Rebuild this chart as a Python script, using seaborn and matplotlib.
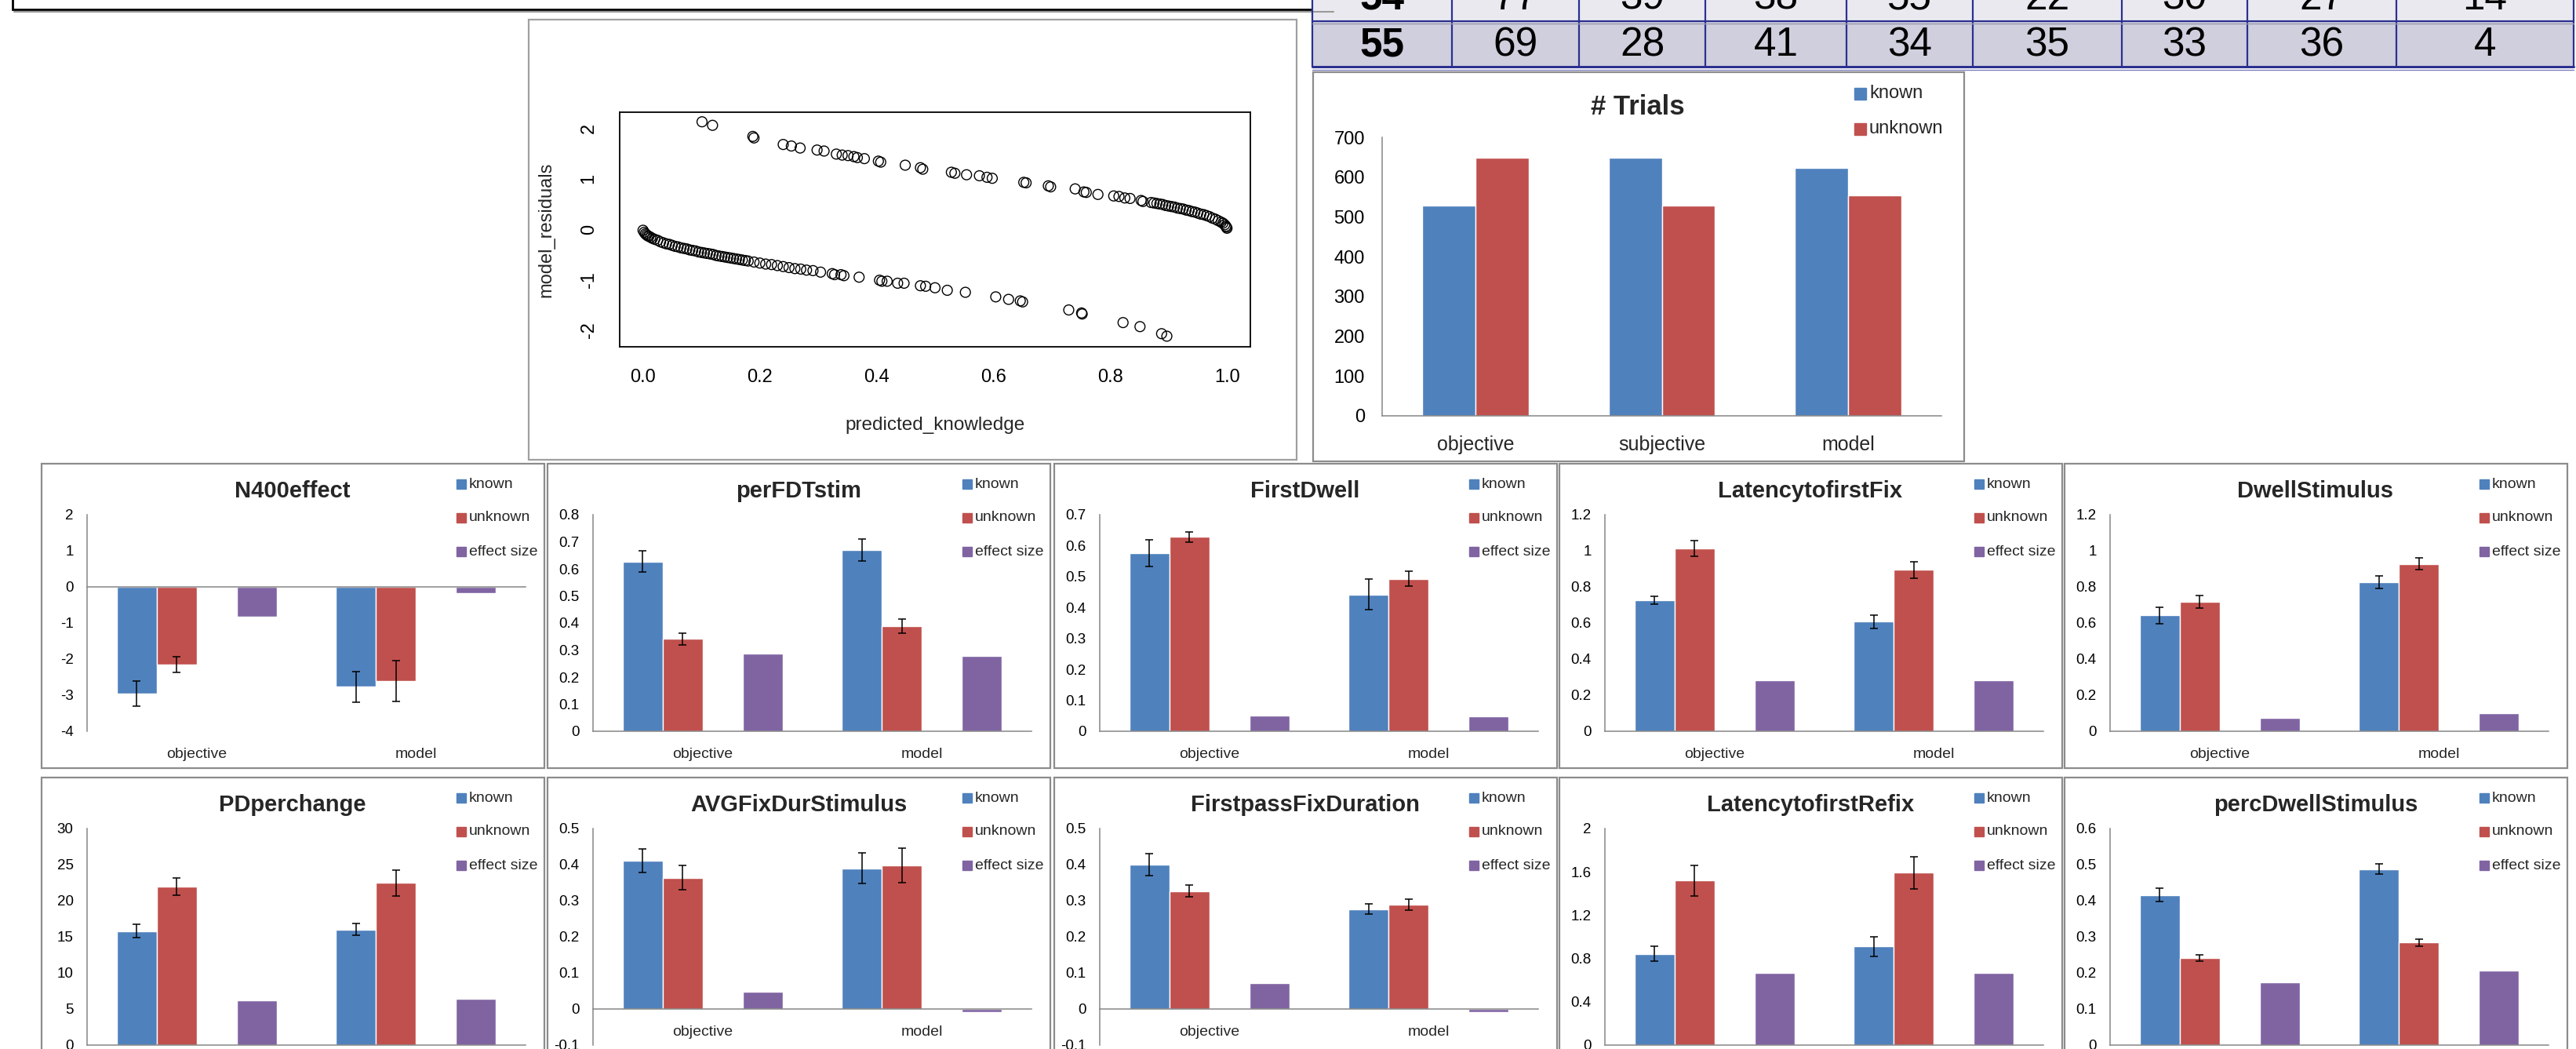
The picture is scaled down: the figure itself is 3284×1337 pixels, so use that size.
"""
Collage of study figures: id table, model residuals, trial counts and the
known / unknown / effect-size bar charts for each eye-tracking measure.
"""

import numpy as np
import pandas as pd
import seaborn as sns
import matplotlib.pyplot as plt
from matplotlib.patches import Rectangle

# ---------------------------------------------------------------- data
TABLE_IDS = [54, 55]
TABLE_VALUES = [
    [77, 39, 38, 55, 22, 30, 27, 14],
    [69, 28, 41, 34, 35, 33, 36, 4],
]

UPPER_X = [0.101, 0.119, 0.188, 0.190, 0.240, 0.254, 0.269, 0.298, 0.310, 0.331,
           0.341, 0.351, 0.361, 0.367, 0.379, 0.403, 0.407, 0.449, 0.475, 0.479,
           0.528, 0.534, 0.554, 0.576, 0.589, 0.598, 0.652, 0.656, 0.694, 0.698,
           0.740, 0.755, 0.759, 0.779, 0.806, 0.815, 0.825, 0.834, 0.853, 0.856,
           0.870, 0.875, 0.880, 0.885, 0.890, 0.895, 0.900, 0.905, 0.910, 0.915,
           0.920, 0.925, 0.930, 0.935, 0.940, 0.945, 0.950, 0.955, 0.960, 0.965,
           0.970, 0.975, 0.980, 0.985, 0.990, 0.993, 0.996, 0.998, 0.999, 1.000]
UPPER_Y = [2.13, 2.06, 1.84, 1.81, 1.68, 1.65, 1.61, 1.57, 1.55, 1.49,
           1.47, 1.46, 1.44, 1.42, 1.40, 1.35, 1.33, 1.27, 1.22, 1.19,
           1.13, 1.11, 1.08, 1.06, 1.03, 1.01, 0.93, 0.92, 0.86, 0.84,
           0.80, 0.74, 0.73, 0.69, 0.66, 0.65, 0.62, 0.61, 0.57, 0.55,
           0.53, 0.52, 0.51, 0.50, 0.49, 0.47, 0.46, 0.45, 0.44, 0.42,
           0.41, 0.40, 0.38, 0.37, 0.35, 0.34, 0.32, 0.30, 0.29, 0.27,
           0.25, 0.22, 0.20, 0.17, 0.14, 0.12, 0.09, 0.06, 0.04, 0.02]
LOWER_X = [0.000, 0.002, 0.004, 0.006, 0.008, 0.010, 0.013, 0.016, 0.020, 0.025,
           0.030, 0.035, 0.040, 0.045, 0.050, 0.055, 0.060, 0.065, 0.070, 0.075,
           0.080, 0.085, 0.090, 0.095, 0.100, 0.105, 0.110, 0.115, 0.120, 0.125,
           0.130, 0.135, 0.140, 0.145, 0.150, 0.155, 0.160, 0.165, 0.170, 0.175,
           0.180, 0.190, 0.200, 0.210, 0.220, 0.230, 0.240, 0.250, 0.260, 0.270,
           0.280, 0.291, 0.304, 0.324, 0.328, 0.339, 0.344, 0.370, 0.405, 0.409,
           0.418, 0.436, 0.447, 0.475, 0.484, 0.500, 0.521, 0.552, 0.604, 0.626,
           0.646, 0.650, 0.729, 0.751, 0.752, 0.822, 0.851, 0.888, 0.897]
LOWER_Y = [-0.02, -0.06, -0.09, -0.11, -0.13, -0.14, -0.16, -0.18, -0.20, -0.22,
           -0.25, -0.27, -0.29, -0.30, -0.32, -0.34, -0.35, -0.37, -0.38, -0.39,
           -0.41, -0.42, -0.43, -0.45, -0.46, -0.47, -0.48, -0.49, -0.50, -0.52,
           -0.53, -0.54, -0.55, -0.56, -0.57, -0.58, -0.59, -0.60, -0.61, -0.62,
           -0.63, -0.65, -0.67, -0.69, -0.70, -0.72, -0.74, -0.76, -0.78, -0.79,
           -0.81, -0.82, -0.85, -0.88, -0.90, -0.90, -0.92, -0.95, -1.01, -1.03,
           -1.03, -1.07, -1.07, -1.12, -1.13, -1.16, -1.21, -1.25, -1.34, -1.39,
           -1.42, -1.44, -1.60, -1.66, -1.68, -1.85, -1.93, -2.07, -2.12]

TRIAL_GROUPS = ["objective", "subjective", "model"]
TRIALS_KNOWN = [529, 648, 623]
TRIALS_UNKNOWN = [648, 529, 555]

CONDITIONS = ["objective", "model"]
SERIES = ["known", "unknown", "effect size"]
MEASURES = ["N400effect", "perFDTstim", "FirstDwell", "LatencytofirstFix",
            "DwellStimulus", "PDperchange", "AVGFixDurStimulus",
            "FirstpassFixDuration", "LatencytofirstRefix", "percDwellStimulus"]
KNOWN_MEAN = [[-2.96, -2.77], [0.627, 0.669], [0.575, 0.442], [0.726, 0.607],
              [0.642, 0.825], [15.8, 16.0], [0.411, 0.390], [0.400, 0.277],
              [0.844, 0.912], [0.416, 0.488]]
UNKNOWN_MEAN = [[-2.16, -2.61], [0.341, 0.388], [0.628, 0.493], [1.013, 0.895],
                [0.717, 0.928], [21.97, 22.45], [0.364, 0.398], [0.327, 0.290],
                [1.52, 1.591], [0.241, 0.284]]
EFFECT_SIZE = [[-0.82, -0.17], [0.286, 0.279], [0.050, 0.048], [0.283, 0.283],
               [0.074, 0.101], [6.2, 6.42], [0.047, -0.008], [0.071, -0.009],
               [0.669, 0.669], [0.174, 0.206]]
KNOWN_ERR = [[0.35, 0.42], [0.040, 0.041], [0.043, 0.049], [0.021, 0.036],
             [0.045, 0.035], [0.9, 0.82], [0.033, 0.042], [0.030, 0.015],
             [0.07, 0.09], [0.019, 0.015]]
UNKNOWN_ERR = [[0.22, 0.56], [0.021, 0.027], [0.016, 0.025], [0.043, 0.045],
               [0.035, 0.032], [1.2, 1.8], [0.034, 0.048], [0.016, 0.015],
               [0.14, 0.146], [0.008, 0.010]]

# ---------------------------------------------------------------- style
W, H = 3284, 1337
BLUE, RED, PURPLE = "#4F81BD", "#C0504D", "#8064A2"
AXIS_GRAY = "#868686"
BOX_GRAY = "#8C8C8C"
NAVY = "#2B3090"
HUE_SLOTS = ["known", "unknown", " ", "effect size"]
PALETTE = {"known": BLUE, "unknown": RED, " ": "white", "effect size": PURPLE}

# y range / step per measure, and whether category labels sit at the bottom
Y_AXES = [(-4, 2, 1), (0, 0.8, 0.1), (0, 0.7, 0.1), (0, 1.2, 0.2), (0, 1.2, 0.2),
          (0, 30, 5), (-0.1, 0.5, 0.1), (-0.1, 0.5, 0.1), (0, 2, 0.4), (0, 0.6, 0.1)]
LABELS_LOW = [True] + [False] * 9

sns.set_theme(style="white")
plt.rcParams["font.family"] = ["Liberation Sans", "DejaVu Sans"]
plt.rcParams["axes.unicode_minus"] = False

fig = plt.figure(figsize=(W / 100, H / 100), dpi=100)
bg = fig.add_axes([0, 0, 1, 1])
bg.set_xlim(0, W)
bg.set_ylim(H, 0)
bg.axis("off")


def px_axes(x0, y0, x1, y1):
    ax = fig.add_axes([x0 / W, 1 - y1 / H, (x1 - x0) / W, (y1 - y0) / H])
    ax.set_facecolor("none")
    return ax


def panel_box(x0, y0, x1, y1, color=BOX_GRAY):
    bg.add_patch(Rectangle((x0, y0), x1 - x0, y1 - y0, facecolor="white",
                           edgecolor=color, lw=1.6))


def excel_legend(x_sq, rows, labels, colors, size, fs):
    for y, lab, c in zip(rows, labels, colors):
        bg.add_patch(Rectangle((x_sq, y - size / 2), size, size, color=c))
        bg.text(x_sq + size + 4, y, lab, ha="left", va="center", fontsize=fs)


def excel_axes(ax, lo, hi, step, n, tick_fs, pad):
    ax.set_xlabel("")
    ax.set_ylabel("")
    ax.set_ylim(lo, hi)
    ax.set_xlim(-0.5, n - 0.5)
    ticks = np.arange(lo, hi + step / 2, step)
    ax.set_yticks(ticks)
    ax.set_yticklabels([f"{round(t, 4) + 0.0:g}" for t in ticks])
    ax.set_xticks(np.arange(-0.5, n, 1.0))
    ax.set_xticklabels([])
    for s in ("top", "right"):
        ax.spines[s].set_visible(False)
    for s in ("left", "bottom"):
        ax.spines[s].set_color(AXIS_GRAY)
        ax.spines[s].set_linewidth(1.1)
    ax.spines["bottom"].set_position(("data", 0))
    ax.tick_params(axis="y", length=5, width=1, color=AXIS_GRAY,
                   labelsize=tick_fs, pad=pad, labelcolor="black")
    ax.tick_params(axis="x", length=6, width=1, color=AXIS_GRAY)


# ---------------------------------------------------------------- top-left frame + table
bg.add_patch(Rectangle((16, -60), 1700, 72, fill=False, edgecolor="black", lw=2))
bg.plot([18, 1700], [14.5, 14.5], color="#9a9a9a", lw=1.5)

COL_EDGES = [1673, 1851, 2013, 2174, 2354, 2515, 2705, 2865, 3055, 3281]
ROW_EDGES = [-44, 27, 85]
ROW_FILLS = ["#E9E9EF", "#CFCFDD"]
BASELINES = [12, 71]
for r, (rid, vals) in enumerate(zip(TABLE_IDS, TABLE_VALUES)):
    bg.add_patch(Rectangle((COL_EDGES[0], ROW_EDGES[r]), COL_EDGES[-1] - COL_EDGES[0],
                           ROW_EDGES[r + 1] - ROW_EDGES[r], facecolor=ROW_FILLS[r],
                           edgecolor="none"))
    cells = [rid] + vals
    for c, v in enumerate(cells):
        cx = (COL_EDGES[c] + COL_EDGES[c + 1]) / 2
        bg.text(cx, BASELINES[r], str(v), ha="center", va="baseline",
                fontsize=37, fontweight="bold" if c == 0 else "normal",
                color="black")
for x in COL_EDGES:
    bg.plot([x, x], [ROW_EDGES[0], ROW_EDGES[-1]], color=NAVY, lw=1.6)
bg.plot([COL_EDGES[0], COL_EDGES[-1]], [27, 27], color=NAVY, lw=1.6)
bg.plot([COL_EDGES[0], COL_EDGES[-1]], [29.5, 29.5], color="#9a9ab0", lw=1)
bg.plot([COL_EDGES[0], COL_EDGES[-1]], [85, 85], color=NAVY, lw=2.2)
bg.plot([COL_EDGES[0], COL_EDGES[-1]], [88.5, 88.5], color="#7a7ab8", lw=1)

# ---------------------------------------------------------------- residual plot (R style)
panel_box(674, 25, 1653, 586, color="#a0a0a0")
ax = px_axes(790, 143, 1594, 442)
resid = pd.DataFrame({"predicted_knowledge": UPPER_X + LOWER_X,
                      "model_residuals": UPPER_Y + LOWER_Y})
sns.scatterplot(data=resid, x="predicted_knowledge", y="model_residuals",
                s=85, color="black", legend=False, ax=ax)
pts = ax.collections[0]
pts.set_facecolor("none")
pts.set_edgecolor("black")
pts.set_linewidth(1.0)
ax.set_xlim(-0.04, 1.04)
ax.set_ylim(-2.33, 2.32)
ax.set_xticks([0, 0.2, 0.4, 0.6, 0.8, 1.0])
ax.set_xticklabels(["0.0", "0.2", "0.4", "0.6", "0.8", "1.0"], fontsize=17)
ax.set_yticks([-2, -1, 0, 1, 2])
ax.set_yticklabels(["-2", "-1", "0", "1", "2"], rotation=90, va="center", fontsize=17)
for s in ax.spines.values():
    s.set_color("black")
    s.set_linewidth(1.3)
ax.tick_params(direction="out", length=9.4, width=1, color="black", pad=11,
               labelcolor="black")
ax.set_xlabel("predicted_knowledge", fontsize=17.5)
ax.xaxis.set_label_coords(0.5, -(542 - 442) / 299)
ax.xaxis.label.set_va("center")
ax.set_ylabel("model_residuals", fontsize=17)
ax.yaxis.set_label_coords(-(790 - 696) / 804, 0.5)
ax.yaxis.label.set_va("center")

# ---------------------------------------------------------------- # Trials
panel_box(1674, 92, 2504, 588)
ax = px_axes(1762, 175, 2475, 530)
trials = pd.DataFrame({
    "group": TRIAL_GROUPS * 2,
    "series": ["known"] * 3 + ["unknown"] * 3,
    "value": TRIALS_KNOWN + TRIALS_UNKNOWN,
})
sns.barplot(data=trials, x="group", y="value", hue="series",
            hue_order=["known", "unknown"], palette=PALETTE, width=0.57,
            saturation=1, errorbar=None, legend=False, ax=ax)
excel_axes(ax, 0, 700, 100, 3, 17, 11)
for i, g in enumerate(TRIAL_GROUPS):
    ax.annotate(g, (i, 0), xytext=(0, -26.5), textcoords="offset points",
                ha="center", va="center", fontsize=18)
bg.text(2088, 137, "# Trials", ha="center", va="center", fontsize=25,
        fontweight="bold")
excel_legend(2364, [119, 164], ["known", "unknown"], [BLUE, RED], 15, 17)

# ---------------------------------------------------------------- measure panels
BOX_LEFTS = [53, 698, 1344, 1988, 2632]
ROW_TOPS = [591, 991]
for k, name in enumerate(MEASURES):
    top = ROW_TOPS[k // 5]
    left = BOX_LEFTS[k % 5]
    panel_box(left, top, left + 641, top + 388 if k < 5 else top + 420)
    ax = px_axes(left + 58, top + 65, left + 617, top + 341)

    df = pd.DataFrame({
        "condition": CONDITIONS * 3,
        "series": [s for s in SERIES for _ in CONDITIONS],
        "value": KNOWN_MEAN[k] + UNKNOWN_MEAN[k] + EFFECT_SIZE[k],
    })
    sns.barplot(data=df, x="condition", y="value", hue="series",
                hue_order=HUE_SLOTS, palette=PALETTE, width=0.73, saturation=1,
                errorbar=None, legend=False, ax=ax)
    for cont, means, errs in zip(ax.containers[:2], (KNOWN_MEAN[k], UNKNOWN_MEAN[k]),
                                 (KNOWN_ERR[k], UNKNOWN_ERR[k])):
        xs = [b.get_x() + b.get_width() / 2 for b in cont]
        ax.errorbar(xs, means, yerr=errs, fmt="none", ecolor="black",
                    elinewidth=1.1, capsize=3.5, capthick=1.1, zorder=5)

    lo, hi, step = Y_AXES[k]
    excel_axes(ax, lo, hi, step, 2, 13.5, 7.5)
    yref = lo if LABELS_LOW[k] else 0
    for i, c in enumerate(CONDITIONS):
        ax.annotate(c, (i, yref), xytext=(0, -21), textcoords="offset points",
                    ha="center", va="center", fontsize=14)

    bg.text(left + 320, top + 35, name, ha="center", va="center",
            fontsize=21, fontweight="bold")
    excel_legend(left + 529, [top + 26, top + 69, top + 112], SERIES,
                 [BLUE, RED, PURPLE], 12, 14)

fig.savefig("out.png", dpi=100)
